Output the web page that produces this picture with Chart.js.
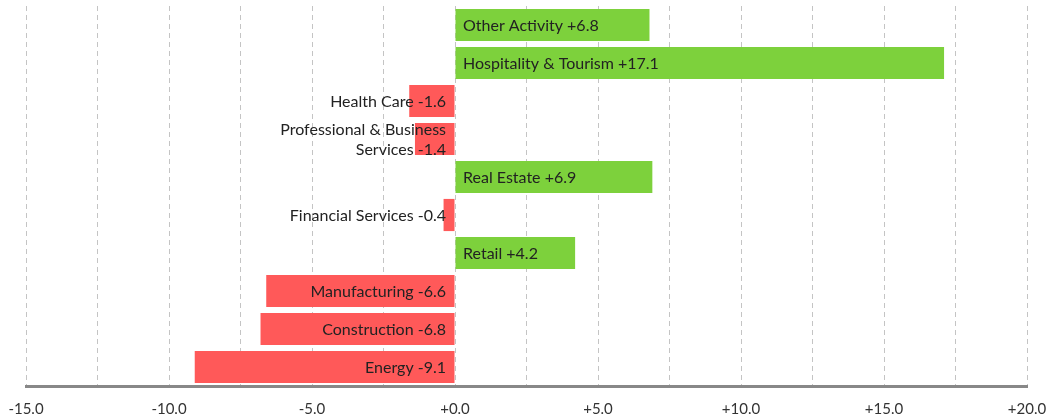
<!DOCTYPE html>
<html>
<head>
<meta charset="utf-8">
<script src="https://cdn.jsdelivr.net/npm/chart.js@4"></script>
<style>
    html, body { margin: 0; padding: 0; background: #fff; }
    #wrap { width: 1054px; height: 417px; }
</style>
</head>
<body>
<div id="wrap"><canvas id="sectorChart"></canvas></div>
<script>
// sector change, percent
const sectors = ['Other Activity', 'Hospitality & Tourism', 'Health Care',
    ['Professional & Business', 'Services'], 'Real Estate', 'Financial Services',
    'Retail', 'Manufacturing', 'Construction', 'Energy'];
const changes = [6.8, 17.1, -1.6, -1.4, 6.9, -0.4, 4.2, -6.6, -6.8, -9.1];
const tickValues = [-15, -10, -5, 0, 5, 10, 15, 20];

const GREEN = '#7dd13c';
const RED = '#ff5959';

function signed(v) {
    return (v >= 0 ? '+' : '') + v.toFixed(1);
}

// draws "Name +x.x" next to the zero line
const barLabels = {
    id: 'barLabels',
    afterDatasetsDraw(chart) {
        const ctx = chart.ctx;
        const meta = chart.getDatasetMeta(0);
        const x0 = chart.scales.x.getPixelForValue(0);
        ctx.save();
        ctx.font = '16px Lato';
        ctx.fillStyle = '#222';
        ctx.textBaseline = 'middle';
        meta.data.forEach((bar, i) => {
            const v = changes[i];
            let lines = Array.isArray(sectors[i]) ? sectors[i].slice() : [sectors[i]];
            lines[lines.length - 1] += ' ' + signed(v);
            const lh = 20;
            const startY = bar.y + 1 - (lines.length - 1) * lh / 2;
            ctx.textAlign = v >= 0 ? 'left' : 'right';
            const tx = v >= 0 ? x0 + 8 : x0 - 9;
            lines.forEach((ln, k) => ctx.fillText(ln, tx, startY + k * lh));
        });
        ctx.restore();
    }
};

new Chart(document.getElementById('sectorChart'), {
    type: 'bar',
    data: {
        labels: sectors,
        datasets: [{
            data: changes,
            backgroundColor: changes.map(v => v >= 0 ? GREEN : RED),
            borderWidth: 0,
            barPercentage: 0.92,
            categoryPercentage: 0.92
        }]
    },
    options: {
        indexAxis: 'y',
        responsive: true,
        maintainAspectRatio: false,
        animation: false,
        layout: { padding: { top: 6, left: 26, right: 27, bottom: 0 } },
        plugins: {
            legend: { display: false },
            tooltip: { enabled: false }
        },
        scales: {
            y: { display: false },
            x: {
                min: -15,
                max: 20,
                afterBuildTicks(scale) {
                    const t = [];
                    for (let v = -15; v <= 20; v += 2.5) t.push({ value: v });
                    scale.ticks = t;
                },
                afterFit(scale) {
                    scale.height = 31;
                    scale.paddingLeft = 0;
                    scale.paddingRight = 0;
                },
                grid: {
                    color: '#c4c4c4',
                    lineWidth: 1,
                    drawTicks: false
                },
                border: { display: true, color: '#888', width: 3, dash: [5, 4] },
                ticks: {
                    autoSkip: false,
                    maxRotation: 0,
                    padding: 14,
                    color: '#333',
                    font: { family: 'Lato', size: 15 },
                    callback: function(value) {
                        return tickValues.includes(value) ? signed(value) : '';
                    }
                }
            }
        }
    },
    plugins: [barLabels]
});
</script>
</body>
</html>
